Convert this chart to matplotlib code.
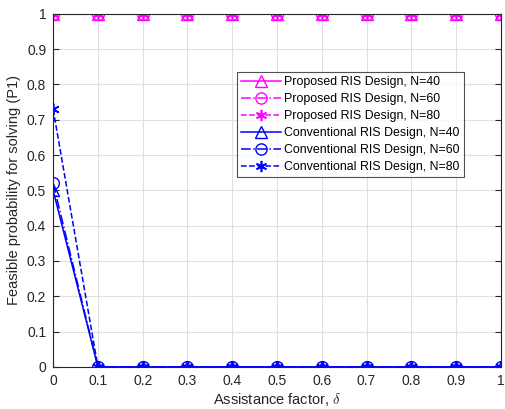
import matplotlib.pyplot as plt
import numpy as np

plt.rcParams['font.family'] = ['Liberation Sans', 'DejaVu Sans']
plt.rcParams['mathtext.fontset'] = 'cm'

delta = np.round(np.arange(0, 1.01, 0.1), 1)
prop_40 = [1] * 11
prop_60 = [1] * 11
prop_80 = [1] * 11
conv_40 = [0.5, 0, 0, 0, 0, 0, 0, 0, 0, 0, 0]
conv_60 = [0.52, 0, 0, 0, 0, 0, 0, 0, 0, 0, 0]
conv_80 = [0.73, 0, 0, 0, 0, 0, 0, 0, 0, 0, 0]

fig = plt.figure(figsize=(5.06, 4.09), dpi=100)
ax = fig.add_axes([0.105, 0.103, 0.885, 0.863])

mag = (1, 0, 1)
blu = (0, 0, 1)
ms = 8.5
star = (6, 2, 0)
ax.plot(delta, prop_40, '-', color=mag, marker='^', mfc='none', ms=ms, lw=1.1, label='Proposed RIS Design, N=40')
ax.plot(delta, prop_60, '-.', color=mag, marker='o', mfc='none', ms=ms, lw=1.1, label='Proposed RIS Design, N=60')
ax.plot(delta, prop_80, '--', color=mag, marker=star, ms=ms, mew=1.2, lw=1.1, label='Proposed RIS Design, N=80')
ax.plot(delta, conv_40, '-', color=blu, marker='^', mfc='none', ms=ms, lw=1.1, label='Conventional RIS Design, N=40')
ax.plot(delta, conv_60, '-.', color=blu, marker='o', mfc='none', ms=ms, lw=1.1, label='Conventional RIS Design, N=60')
ax.plot(delta, conv_80, '--', color=blu, marker=star, ms=ms, mew=1.2, lw=1.1, label='Conventional RIS Design, N=80')

ax.set_xlim(0, 1)
ax.set_ylim(0, 1)
ticklabels = ['0', '0.1', '0.2', '0.3', '0.4', '0.5', '0.6', '0.7', '0.8', '0.9', '1']
ax.set_xticks(delta)
ax.set_xticklabels(ticklabels)
ax.set_yticks(delta)
ax.set_yticklabels(ticklabels)
ax.tick_params(direction='in', labelsize=10, colors='0.15', top=True, right=True, length=4, pad=5)
ax.grid(True, color='0.88', lw=0.8)
ax.set_axisbelow(True)
for s in ax.spines.values():
    s.set_color('0.15')
    s.set_linewidth(0.8)

ax.set_xlabel(r'Assistance factor, $\delta$', fontsize=10.5, color='0.15', labelpad=2)
ax.set_ylabel('Feasible probability for solving (P1)', fontsize=10.5, color='0.15', labelpad=4)

leg = ax.legend(loc='upper left', bbox_to_anchor=(0.41, 0.836), fontsize=8.9, frameon=True,
                fancybox=False, edgecolor='0.15', handlelength=3.2, borderpad=0.35,
                labelspacing=0.4, handletextpad=0.3, borderaxespad=0, markerscale=0.95)
leg.get_frame().set_linewidth(0.8)

fig.savefig('out.png', dpi=100)
